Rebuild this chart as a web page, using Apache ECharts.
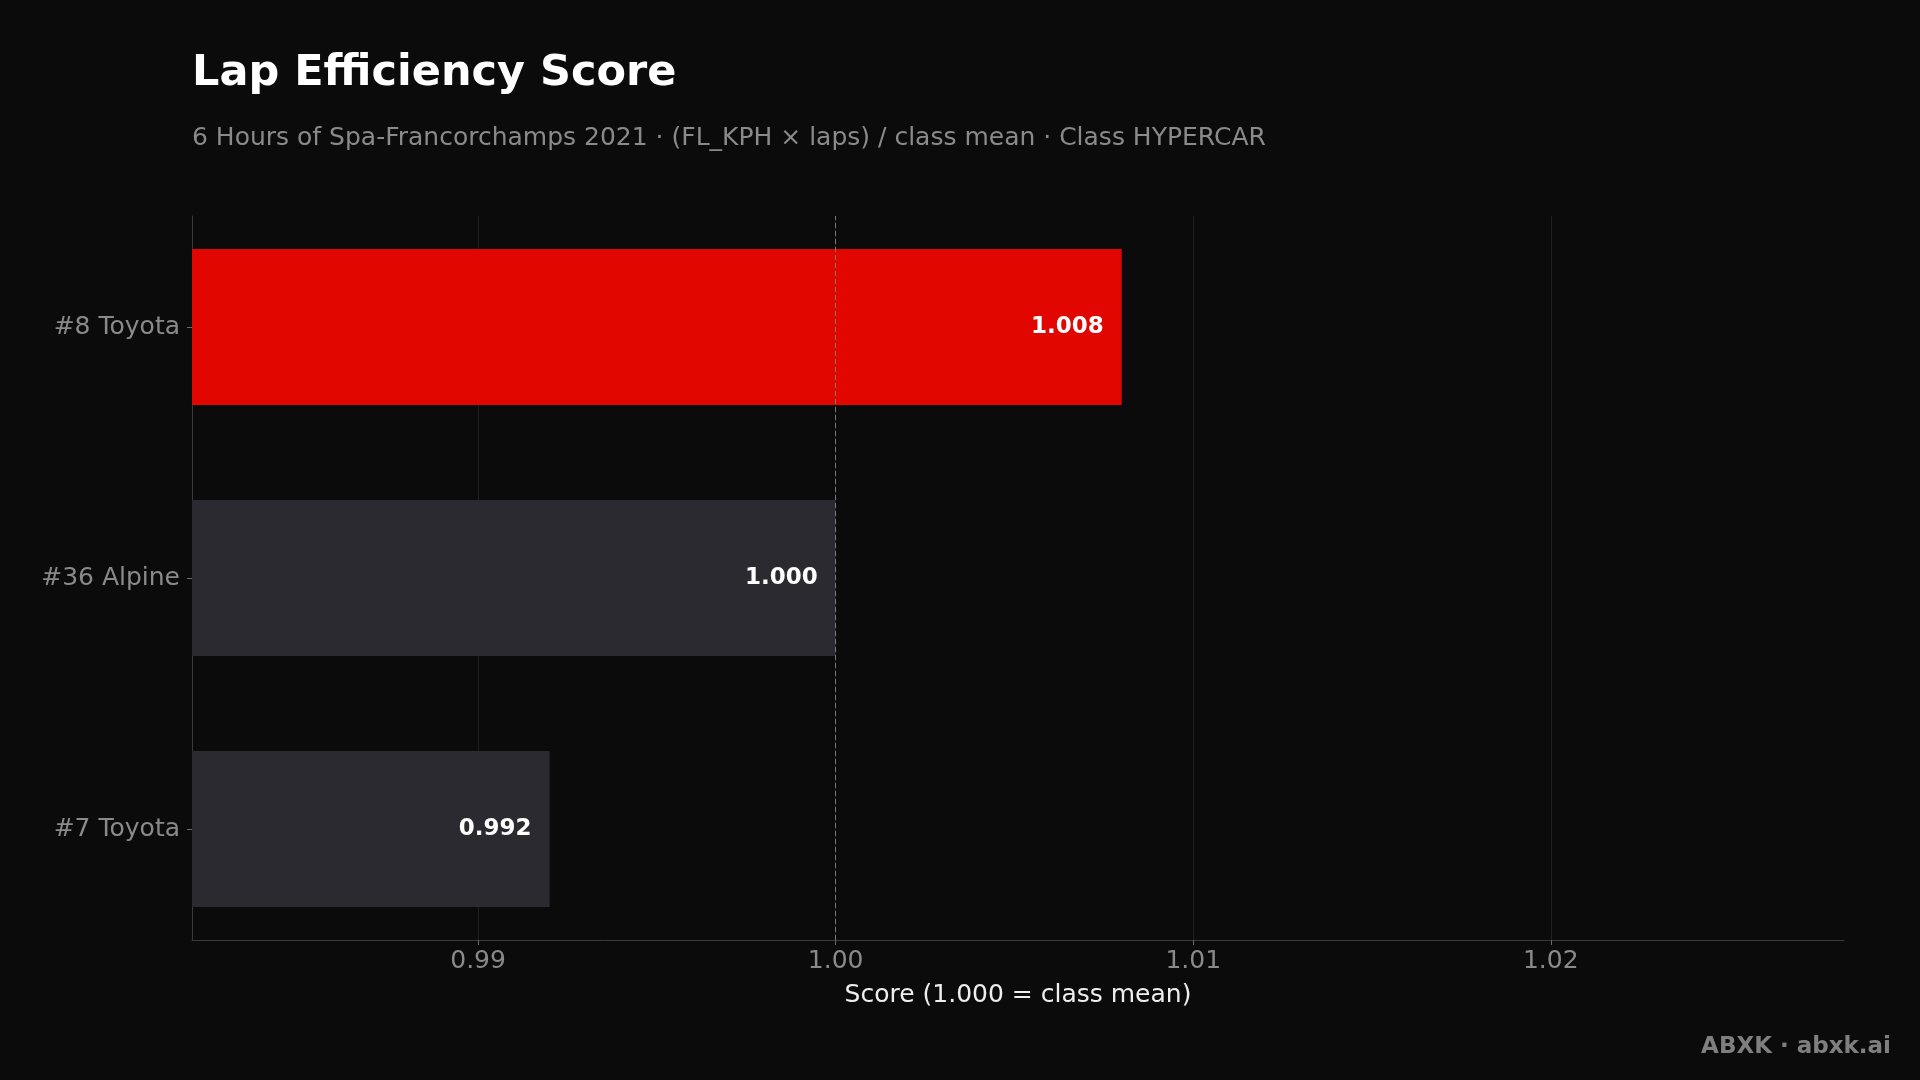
<!DOCTYPE html>
<html>
<head>
<meta charset="utf-8">
<script src="https://cdn.jsdelivr.net/npm/echarts@6/dist/echarts.min.js"></script>
<style>
html,body{margin:0;padding:0;background:#0b0b0c;}
#chart{width:1920px;height:1080px;}
</style>
</head>
<body>
<div id="chart"></div>
<script>
const categories = ['#8 Toyota', '#36 Alpine', '#7 Toyota'];
const scores = [1.008, 1.000, 0.992];
const highlight = [true, false, false];
const xTicks = [0.99, 1.00, 1.01, 1.02];
const meanValue = 1.00;
const titleText = 'Lap Efficiency Score';
const subtitleText = '6 Hours of Spa-Francorchamps 2021 · (FL_KPH × laps) / class mean · Class HYPERCAR';
const xName = 'Score (1.000 = class mean)';
const brand = 'ABXK · abxk.ai';

const FONT = '"DejaVu Sans", sans-serif';
const X_MIN = 0.982, X_MAX = 1.0282;

const chart = echarts.init(document.getElementById('chart'), null, {renderer: 'canvas'});

const option = {
  backgroundColor: '#0b0b0c',
  animation: false,
  textStyle: {fontFamily: FONT},
  graphic: [
    {type: 'text', left: 192, top: 52, style: {text: titleText, fill: '#ffffff', font: 'bold 43px ' + FONT}},
    {type: 'text', left: 192, top: 126, style: {text: subtitleText, fill: '#8a8a8a', font: '25px ' + FONT}},
    {type: 'text', right: 29, top: 1036, style: {text: brand, fill: '#7f7f7f', font: 'bold 23px ' + FONT}}
  ],
  grid: [
    {left: 192, right: 76, top: 216, height: 724},
    {left: 192, right: 76, top: 201.5, height: 753}
  ],
  xAxis: [
    {
      gridIndex: 0, type: 'value', min: X_MIN, max: X_MAX,
      axisLine: {show: true, lineStyle: {color: '#3a3a3c', width: 1}},
      axisTick: {show: true, length: 5, lineStyle: {color: '#6a6a6a'}, customValues: xTicks},
      axisLabel: {show: true, customValues: xTicks, color: '#8a8a8a', fontSize: 25, fontFamily: FONT, margin: 9,
                  formatter: v => Number(v).toFixed(2)},
      splitLine: {show: true, lineStyle: {color: '#1f1f22', width: 1}},
      name: xName, nameLocation: 'middle', nameGap: 43,
      nameTextStyle: {color: '#eeeeee', fontSize: 25, fontFamily: FONT}
    },
    {
      gridIndex: 1, type: 'value', min: X_MIN, max: X_MAX, show: false,
      splitLine: {show: false}
    }
  ],
  yAxis: [
    {
      gridIndex: 0, type: 'value', min: 0, max: 1,
      axisLine: {show: true, lineStyle: {color: '#3a3a3c'}},
      axisTick: {show: false}, axisLabel: {show: false}, splitLine: {show: false}
    },
    {
      gridIndex: 1, type: 'category', data: categories, inverse: true,
      axisLine: {show: false},
      axisTick: {show: true, alignWithLabel: true, length: 5, lineStyle: {color: '#6a6a6a'}},
      axisLabel: {color: '#8a8a8a', fontSize: 25, fontFamily: FONT, margin: 12, padding: [4, 0, 0, 0]},
      splitLine: {show: false}
    }
  ],
  series: [
    {
      type: 'bar', xAxisIndex: 1, yAxisIndex: 1,
      barWidth: 156,
      data: scores.map((v, i) => ({
        value: v,
        itemStyle: {color: highlight[i] ? '#e10600' : '#2b2a30'}
      })),
      label: {
        show: true, position: 'insideRight', distance: 18,
        color: '#ffffff', fontWeight: 'bold', fontSize: 23, fontFamily: FONT,
        formatter: p => p.value.toFixed(3)
      },
      z: 2
    },
    {
      type: 'line', xAxisIndex: 0, yAxisIndex: 0, data: [],
      markLine: {
        silent: true, symbol: 'none', label: {show: false},
        lineStyle: {color: '#7a7a7a', type: [5, 3], width: 1},
        data: [{xAxis: meanValue}]
      },
      z: 5
    }
  ]
};
chart.setOption(option);
</script>
</body>
</html>
